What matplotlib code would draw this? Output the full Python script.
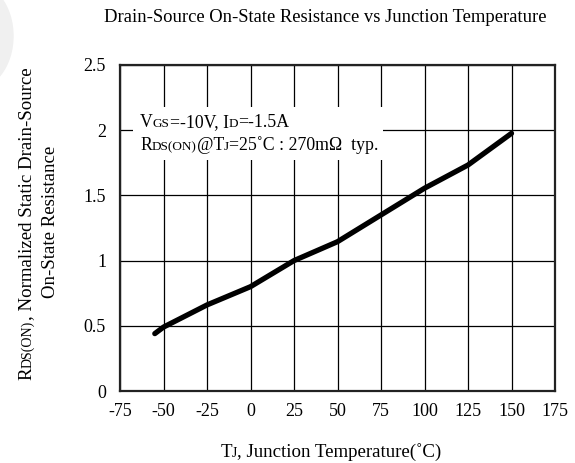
import matplotlib
matplotlib.use("Agg")
import matplotlib.pyplot as plt
from matplotlib.patches import Rectangle, Ellipse

# values
temp = [-55, -50, -25, 0, 25, 50, 75, 100, 125, 150]
rds_norm = [0.44, 0.49, 0.66, 0.80, 1.00, 1.145, 1.35, 1.555, 1.733, 1.976]

xticks = [-75, -50, -25, 0, 25, 50, 75, 100, 125, 150, 175]
yticks = [0, 0.5, 1, 1.5, 2, 2.5]
ytick_labels = ["0", "0.5", "1", "1.5", "2", "2.5"]

W, H = 575, 463
BIG, SMALL = 13.6, 10
BOX, BOX_SMALL = 12.8, 9.5

plt.rcParams["font.family"] = ["Liberation Serif", "DejaVu Serif"]

fig = plt.figure(figsize=(W / 100, H / 100), dpi=100)
renderer = fig.canvas.get_renderer()

# faint grey watermark at the top left
fig.patches.append(Ellipse((-26 / W, 1 - 36 / H), 78 / W, 106 / H,
                           transform=fig.transFigure, color="#f0f0f0", zorder=0))

ax = fig.add_axes([120 / W, 1 - 391 / H, 435 / W, 326 / H])
ax.plot(temp, rds_norm, color="black", lw=3.8, solid_capstyle="round",
        solid_joinstyle="round", zorder=3)

ax.set_xlim(-75, 175)
ax.set_ylim(0, 2.5)
ax.set_xticks(xticks)
ax.set_xticklabels([str(t) for t in xticks])
ax.set_yticks(yticks)
ax.set_yticklabels(ytick_labels)
ax.tick_params(length=0, labelsize=13)
ax.tick_params(axis="x", pad=9)
ax.tick_params(axis="y", pad=10)
ax.grid(True, color="black", lw=0.9)
ax.set_axisbelow(True)
for sp in ax.spines.values():
    sp.set_linewidth(1.6)
    sp.set_color("#222222")

# white box behind the condition text
ax.add_patch(Rectangle((-67.5, 1.771), 143.6, 0.407, facecolor="white",
                       edgecolor="none", zorder=2))


def rich(x, y, pieces, rotation=0, center=False):
    # pieces of text with different sizes on one baseline, x/y in pixels from top left
    texts = []
    pos = 0
    for s, size in pieces:
        t = fig.text(0, 0, s, fontsize=size, rotation=rotation,
                     rotation_mode="anchor", ha="left", va="baseline", zorder=5)
        bb = t.get_window_extent(renderer)
        texts.append((t, pos))
        pos += bb.height if rotation else bb.width
    start = -pos / 2 if center else 0
    for t, off in texts:
        d = start + off
        if rotation:
            t.set_position((x / W, 1 - (y - d) / H))
        else:
            t.set_position(((x + d) / W, 1 - y / H))


fig.text(325 / W, 1 - 18 / H, "Drain-Source On-State Resistance vs Junction Temperature",
         fontsize=13.4, ha="center", va="center")

rich(140, 127, [("V", BOX), ("GS", BOX_SMALL), ("=-10V, I", BOX), ("D", BOX_SMALL),
                ("=-1.5A", BOX)])
rich(140, 150, [("R", BOX), ("DS(ON)", BOX_SMALL), ("@T", BOX), ("J", BOX_SMALL),
                ("=25˚C : 270mΩ  typ.", BOX)])

rich(31, 224, [("R", BIG), ("DS(ON)", SMALL), (", Normalized Static Drain-Source", BIG)],
     rotation=90, center=True)
rich(55, 222, [("On-State Resistance", BIG)], rotation=90, center=True)

rich(331, 457, [("T", BIG), ("J", SMALL), (", Junction Temperature(˚C)", BIG)], center=True)

fig.savefig("out.png", dpi=100)
